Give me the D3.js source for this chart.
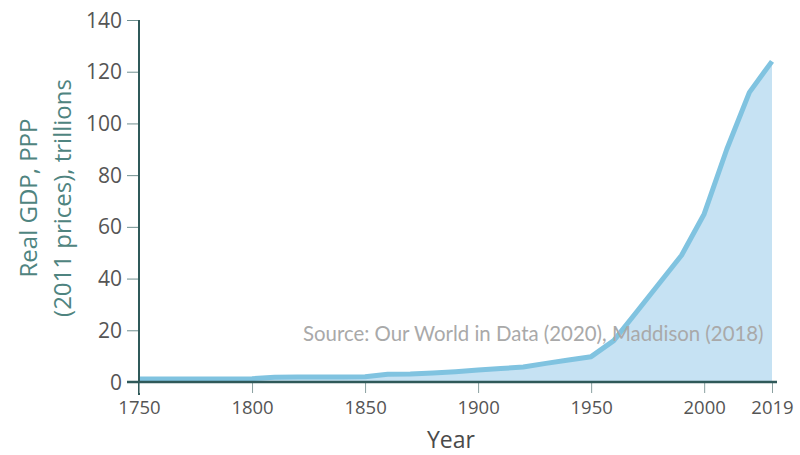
<!DOCTYPE html>
<html>
<head>
<meta charset="utf-8">
<script src="https://cdn.jsdelivr.net/npm/d3@7"></script>
<style>
  html, body { margin: 0; padding: 0; background: #fff; }
  svg { display: block; }
</style>
</head>
<body>
<svg id="chart" width="800" height="455"></svg>
<script>
// Data (world real GDP, PPP, 2011 prices, trillions)
const years = ["1750","1760","1770","1780","1790","1800","1810","1820","1830","1840",
               "1850","1860","1870","1880","1890","1900","1910","1920","1930","1940",
               "1950","1960","1970","1980","1990","2000","2010","2016","2019"];
const gdp = [1.2,1.2,1.2,1.2,1.2,1.3,1.8,1.9,1.9,1.9,
             2.0,3.0,3.1,3.5,4.0,4.6,5.2,5.8,7.2,8.5,
             9.8,16,27,38,49,65,90,112,124];
const xTickLabels = ["1750","1800","1850","1900","1950","2000","2019"];
const yTicks = [0,20,40,60,80,100,120,140];

const svg = d3.select("#chart");
const axisColor = "#2f5959";

const x = d3.scalePoint().domain(years).range([139, 772]);
const y = d3.scaleLinear().domain([0, 140]).range([382, 20]);

// Area
const area = d3.area()
  .x((d, i) => x(years[i]))
  .y0(y(0))
  .y1(d => y(d));
svg.append("path")
  .datum(gdp)
  .attr("d", area)
  .attr("fill", "#c6e2f3");

// Line
const line = d3.line()
  .x((d, i) => x(years[i]))
  .y(d => y(d));
svg.append("path")
  .datum(gdp)
  .attr("d", line)
  .attr("fill", "none")
  .attr("stroke", "#80c3e0")
  .attr("stroke-width", 5)
  .attr("stroke-linejoin", "round");

// Source text
svg.append("text")
  .attr("x", 303)
  .attr("y", 341)
  .attr("font-family", "Lato, 'Open Sans', sans-serif")
  .attr("font-size", 20.4)
  .attr("fill", "#a9a9a9")
  .text("Source: Our World in Data (2020), Maddison (2018)");

// Y axis
const yAxis = d3.axisLeft(y).tickValues(yTicks).tickSize(12).tickPadding(5);
const gy = svg.append("g").attr("transform", "translate(139,0)").call(yAxis);
gy.select(".domain").remove();
gy.append("line").attr("x1", 0).attr("x2", 0).attr("y1", 20).attr("y2", 395)
  .attr("stroke", axisColor).attr("stroke-width", 2);
gy.selectAll(".tick line").attr("stroke", "#6f8f8f").attr("stroke-width", 1);
gy.selectAll(".tick text")
  .attr("font-family", "'Open Sans', sans-serif")
  .attr("font-size", 21)
  .attr("fill", "#555")
  .attr("dy", "0.34em");

// X axis
const xAxis = d3.axisBottom(x).tickValues(xTickLabels).tickSize(11).tickPadding(8);
const gx = svg.append("g").attr("transform", "translate(0,382)").call(xAxis);
gx.select(".domain").remove();
gx.append("line").attr("x1", 127).attr("x2", 777).attr("y1", 0).attr("y2", 0)
  .attr("stroke", axisColor).attr("stroke-width", 2.5);
gx.selectAll(".tick line").attr("stroke", "#8aa0a0").attr("stroke-width", 1);
gx.selectAll(".tick text")
  .attr("font-family", "'Open Sans', sans-serif")
  .attr("font-size", 18.5)
  .attr("fill", "#555");

// Axis titles
svg.append("text")
  .attr("x", 451).attr("y", 448)
  .attr("text-anchor", "middle")
  .attr("font-family", "'Open Sans', sans-serif")
  .attr("font-size", 23)
  .attr("fill", "#4a4a4a")
  .text("Year");

const yTitle = svg.append("text")
  .attr("transform", "translate(0,198) rotate(-90)")
  .attr("text-anchor", "middle")
  .attr("font-family", "'Open Sans', sans-serif")
  .attr("font-size", 24)
  .attr("fill", "#4f8480");
yTitle.append("tspan").attr("x", 0).attr("y", 37).text("Real GDP, PPP");
yTitle.append("tspan").attr("x", 0).attr("y", 71).text("(2011 prices), trillions");
</script>
</body>
</html>
